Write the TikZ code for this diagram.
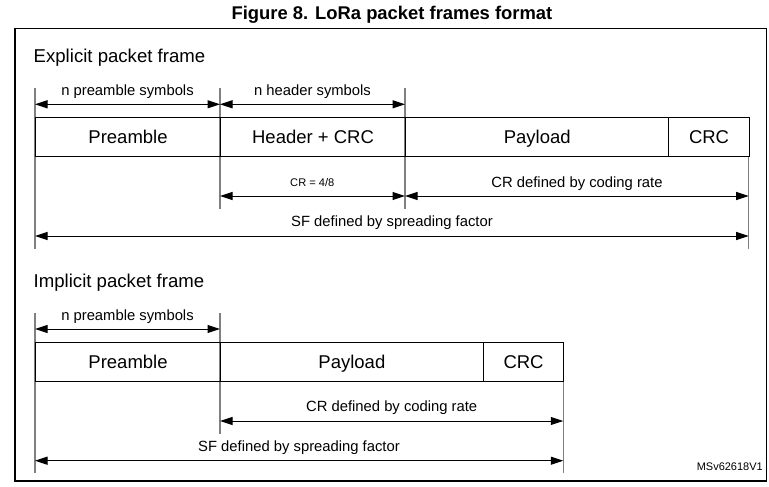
\documentclass[tikz,border=0pt]{standalone}
\usepackage{fontspec}
\setmainfont{Liberation Sans}
\usetikzlibrary{arrows.meta}
\begin{document}
\begin{tikzpicture}[x=1pt,y=-1pt,
  field/.style={draw=black,line width=1.1pt,inner sep=0pt,anchor=north west,
    text height=13.2pt,text depth=0pt,font=\fontsize{18.5}{20}\selectfont},
  tick/.style={draw=black!50,line width=1.3pt},
  dim/.style={draw=black,line width=1pt,{Triangle[length=12.5pt,width=8pt]}-{Triangle[length=12.5pt,width=8pt]}},
  lbl/.style={font=\fontsize{14.8}{16}\selectfont,anchor=base,inner sep=0pt},
  small/.style={font=\fontsize{11.1}{12}\selectfont,anchor=base,inner sep=0pt},
  heading/.style={font=\fontsize{18.6}{20}\selectfont,anchor=base west,inner sep=0pt}]
\useasboundingbox (0,0) rectangle (769,487);
% title and frame
\node[font=\bfseries\fontsize{18.4}{20}\selectfont,inner sep=0pt] (title) at (392,15) {Figure 8. LoRa packet frames format};
\draw[line width=1.2pt] (15,28.3) rectangle (766.5,481);

% ---------- Explicit ----------
\node[heading] (exh) at (33.5,63) {Explicit packet frame};
% tick coordinates
\coordinate (eA1) at (35,88);   \coordinate (eA2) at (35,249);
\coordinate (eB1) at (220,88);  \coordinate (eB2) at (220,209);
\coordinate (eC1) at (405,88);  \coordinate (eC2) at (405,209);
\coordinate (eD1) at (748.7,156); \coordinate (eD2) at (748.7,249);
\draw[tick] (eA1) -- (eA2);
\draw[tick] (eB1) -- (eB2);
\draw[tick] (eC1) -- (eC2);
\draw[tick] (eD1) -- (eD2);
% boxes
\node[field,minimum width=185pt,minimum height=39.3pt] (epre) at (35,116.7) {Preamble};
\node[field,minimum width=185pt,minimum height=39.3pt] (ehdr) at (220,116.7) {Header + CRC};
\node[field,minimum width=263.3pt,minimum height=39.3pt] (epay) at (405,116.7) {Payload};
\node[field,minimum width=80.4pt,minimum height=39.3pt] (ecrc) at (668.3,116.7) {CRC};
% arrows
\coordinate (e1a) at (35,104.3);  \coordinate (e1b) at (220,104.3); \coordinate (e1c) at (405,104.3);
\draw[dim] (e1a) -- (e1b);
\draw[dim] (e1b) -- (e1c);
\node[lbl] (enp) at (127.5,95.5) {n preamble symbols};
\node[lbl] (enh) at (312.5,95.5) {n header symbols};
\coordinate (e2a) at (220,196); \coordinate (e2b) at (405,196); \coordinate (e2c) at (748.7,196);
\draw[dim] (e2a) -- (e2b);
\draw[dim] (e2b) -- (e2c);
\node[small] (ecr) at (312.3,186.7) {CR = 4/8};
\node[lbl] (ecrd) at (577,187.3) {CR defined by coding rate};
\coordinate (e3a) at (35,236); \coordinate (e3b) at (748.7,236);
\draw[dim] (e3a) -- (e3b);
\node[lbl] (esf) at (392,226.7) {SF defined by spreading factor};

% ---------- Implicit ----------
\node[heading] (imh) at (33.5,287.3) {Implicit packet frame};
\coordinate (iA1) at (35,313);  \coordinate (iA2) at (35,473);
\coordinate (iB1) at (220,313); \coordinate (iB2) at (220,434);
\coordinate (iD1) at (563.3,381); \coordinate (iD2) at (563.3,473);
\draw[tick] (iA1) -- (iA2);
\draw[tick] (iB1) -- (iB2);
\draw[tick] (iD1) -- (iD2);
\node[field,minimum width=185pt,minimum height=39.3pt] (ipre) at (35,341.7) {Preamble};
\node[field,minimum width=262.7pt,minimum height=39.3pt] (ipay) at (220,341.7) {Payload};
\node[field,minimum width=80.6pt,minimum height=39.3pt] (icrc) at (482.7,341.7) {CRC};
\coordinate (i1a) at (35,329); \coordinate (i1b) at (220,329);
\draw[dim] (i1a) -- (i1b);
\node[lbl] (inp) at (127.5,320) {n preamble symbols};
\coordinate (i2a) at (220,421); \coordinate (i2b) at (563.3,421);
\draw[dim] (i2a) -- (i2b);
\node[lbl] (icrd) at (391.7,411.7) {CR defined by coding rate};
\coordinate (i3a) at (35,460.7); \coordinate (i3b) at (563.3,460.7);
\draw[dim] (i3a) -- (i3b);
\node[lbl] (isf) at (299,451.7) {SF defined by spreading factor};

\node[font=\fontsize{11}{12}\selectfont,anchor=base east,inner sep=0pt] (ms) at (763,470) {MSv62618V1};
\end{tikzpicture}
\end{document}
